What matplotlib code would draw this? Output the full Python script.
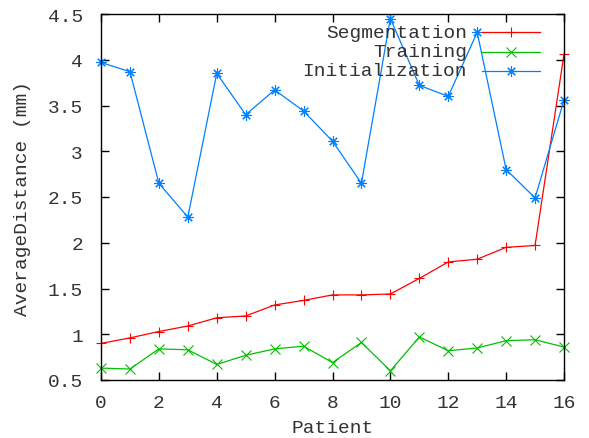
import numpy as np
import matplotlib.pyplot as plt

patient = np.arange(17)
segmentation = [0.90, 0.96, 1.03, 1.09, 1.18, 1.20, 1.32, 1.37, 1.43, 1.43,
                1.44, 1.61, 1.79, 1.82, 1.95, 1.97, 4.06]
training = [0.63, 0.62, 0.84, 0.83, 0.67, 0.77, 0.84, 0.87, 0.69, 0.91,
            0.60, 0.97, 0.82, 0.85, 0.93, 0.94, 0.86]
initialization = [3.97, 3.87, 2.65, 2.28, 3.85, 3.40, 3.67, 3.44, 3.11, 2.65,
                  4.45, 3.72, 3.60, 4.30, 2.80, 2.49, 3.56]

yticks = [0.5, 1, 1.5, 2, 2.5, 3, 3.5, 4, 4.5]
ytick_labels = ['0.5', '1', '1.5', '2', '2.5', '3', '3.5', '4', '4.5']
xticks = [0, 2, 4, 6, 8, 10, 12, 14, 16]

plt.rcParams['font.family'] = 'Liberation Mono'
txt = '#333333'
fs = 14

fig = plt.figure(figsize=(5.89, 4.39), dpi=100)
ax = fig.add_axes([101 / 589, 58 / 439, 463 / 589, 366 / 439])

series = [
    ('Segmentation', segmentation, '#ff0000', '+'),
    ('Training', training, '#00c000', 'x'),
    ('Initialization', initialization, '#0080ff', (8, 2, 0)),
]
for name, vals, col, mk in series:
    ax.plot(patient, vals, color=col, lw=0.9, marker=mk, ms=7.5, mew=0.8,
            clip_on=False)

ax.set_xlim(0, 16)
ax.set_ylim(0.5, 4.5)
ax.set_xticks(xticks)
ax.set_yticks(yticks)
ax.set_yticklabels(ytick_labels)
ax.tick_params(direction='in', length=6, width=1, top=True, right=True,
               labelsize=fs, labelcolor=txt)
ax.tick_params(axis='y', pad=13)
ax.tick_params(axis='x', pad=10)
for s in ax.spines.values():
    s.set_linewidth(1)
ax.set_xlabel('Patient', fontsize=fs, color=txt, labelpad=6)
ax.set_ylabel('AverageDistance (mm)', fontsize=fs, color=txt, labelpad=12)

# gnuplot-style key: right-aligned text, sample line to the right
for i, (name, vals, col, mk) in enumerate(series):
    yk = 1 - (18 + 19.5 * i) / 366
    ax.text(366 / 463, yk, name, transform=ax.transAxes, ha='right',
            va='center', fontsize=fs, color=txt)
    ax.plot([381 / 463, 439 / 463], [yk, yk], transform=ax.transAxes,
            color=col, lw=0.9)
    ax.plot([410 / 463], [yk], transform=ax.transAxes, color=col,
            marker=mk, ms=7.5, mew=0.8)

plt.savefig('out.png', dpi=100)
plt.close()
